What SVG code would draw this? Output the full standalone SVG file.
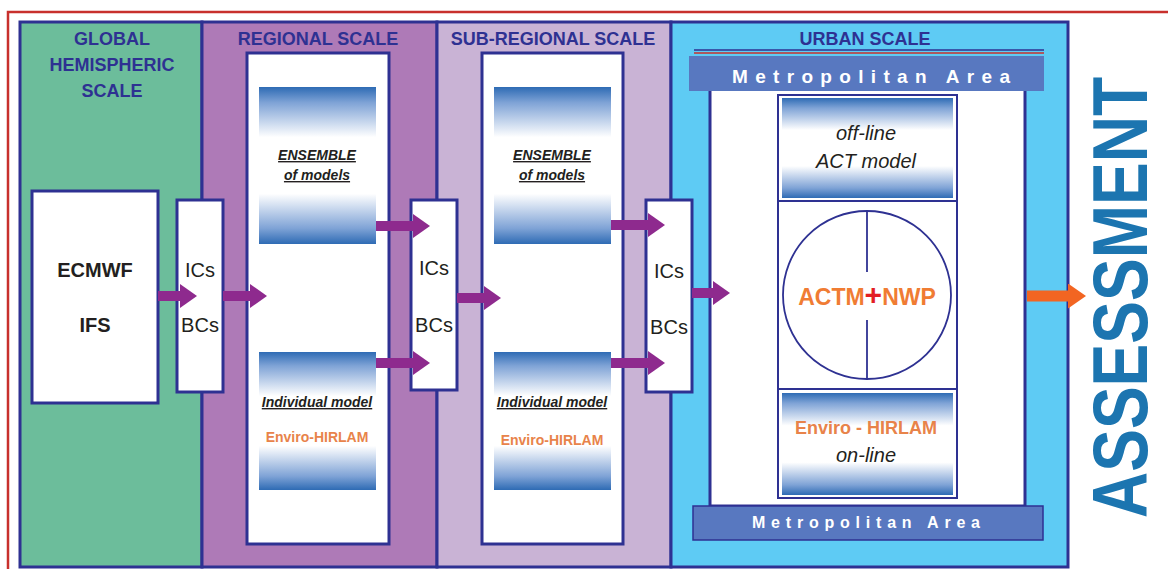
<svg xmlns="http://www.w3.org/2000/svg" width="1168" height="569" viewBox="0 0 1168 569">
<style>
text{font-family:"Liberation Sans",Arial,sans-serif}
.panel{stroke:#2e3192;stroke-width:3}
.box{fill:#fff;stroke:#2e3192;stroke-width:3}
.title{font-size:18px;font-weight:bold;fill:#2e3192;text-anchor:middle}
.ic{font-size:20px;fill:#231f20;text-anchor:middle}
.big{font-size:20px;font-weight:bold;fill:#231f20;text-anchor:middle}
.ens{font-size:14px;font-weight:bold;font-style:italic;fill:#231f20;text-anchor:middle;text-decoration:underline}
.env{font-size:14px;font-weight:bold;fill:#e8834a;text-anchor:middle}
.it{font-size:20px;font-style:italic;fill:#231f20;text-anchor:middle}
.metro{font-size:19px;font-weight:bold;fill:#fff;text-anchor:middle}
.arr{stroke:#8e2a8e;stroke-width:10;fill:none}
</style>
<defs>
<linearGradient id="gb" x1="0" y1="0" x2="0" y2="1">
<stop offset="0" stop-color="#2e6bb4"/>
<stop offset="0.1" stop-color="#7fa3d6"/>
<stop offset="0.32" stop-color="#ffffff"/>
<stop offset="0.68" stop-color="#ffffff"/>
<stop offset="0.9" stop-color="#7fa3d6"/>
<stop offset="1" stop-color="#2e6bb4"/>
</linearGradient>
<marker id="ah" markerWidth="17" markerHeight="24" refX="0" refY="12" orient="auto" markerUnits="userSpaceOnUse"><path d="M0,0 L17,12 L0,24 Z" fill="#8e2a8e"/></marker>
<marker id="aho" markerWidth="18" markerHeight="25" refX="0" refY="12.5" orient="auto" markerUnits="userSpaceOnUse"><path d="M0,0 L18,12.5 L0,25 Z" fill="#f26522"/></marker>
</defs>
<rect x="0" y="0" width="1168" height="569" fill="#fff"/>
<rect x="8" y="12" width="1175" height="570" fill="none" stroke="#c8302c" stroke-width="2.5"/>

<g id="global">
<rect class="panel" x="20" y="22" width="182" height="545" fill="#6cbd9b"/>
<text class="title" x="112" y="45">GLOBAL</text>
<text class="title" x="112" y="71">HEMISPHERIC</text>
<text class="title" x="112" y="97">SCALE</text>
</g>
<g id="regional">
<rect class="panel" x="202" y="22" width="235" height="545" fill="#ae7ab7"/>
<text class="title" x="318" y="45">REGIONAL SCALE</text>
<rect class="box" x="247" y="53" width="142" height="491"/>
<rect x="259" y="87" width="117" height="157" fill="url(#gb)"/>
<rect x="259" y="352" width="117" height="138" fill="url(#gb)"/>
<text class="ens" x="317" y="160">ENSEMBLE</text>
<text class="ens" x="317" y="180">of models</text>
<text class="ens" x="317" y="407">Individual model</text>
<text class="env" x="317" y="442">Enviro-HIRLAM</text>
</g>
<g id="subregional">
<rect class="panel" x="437" y="22" width="234" height="545" fill="#c9b3d5"/>
<text class="title" x="553" y="45">SUB-REGIONAL SCALE</text>
<rect class="box" x="482" y="53" width="141" height="491"/>
<rect x="494" y="87" width="117" height="157" fill="url(#gb)"/>
<rect x="494" y="352" width="117" height="138" fill="url(#gb)"/>
<text class="ens" x="552" y="160">ENSEMBLE</text>
<text class="ens" x="552" y="180">of models</text>
<text class="ens" x="552" y="407">Individual model</text>
<text class="env" x="552" y="445">Enviro-HIRLAM</text>
</g>
<g id="urban">
<rect class="panel" x="671" y="22" width="397" height="545" fill="#5ecbf4"/>
<text class="title" x="865" y="45">URBAN SCALE</text>
<rect class="box" x="710" y="88" width="315" height="418"/>
<line x1="694" y1="50" x2="1044" y2="50" stroke="#2e3192" stroke-width="1.5"/>
<line x1="694" y1="53" x2="1044" y2="53" stroke="#c8302c" stroke-width="1.5"/>
<rect x="689" y="56" width="355" height="35" fill="#5878c0"/>
<text class="metro" x="871" y="83" textLength="278" lengthAdjust="spacing">Metropolitan Area</text>
<rect x="693" y="506" width="350" height="34" fill="#5878c0" stroke="#2e3192" stroke-width="1.5"/>
<text class="metro" x="866" y="528" style="font-size:16px" textLength="228" lengthAdjust="spacing">Metropolitan Area</text>
</g>
<g id="ecmwf">
<rect class="box" x="32" y="191" width="126" height="212"/>
<text class="big" x="95" y="277">ECMWF</text>
<text class="big" x="95" y="332">IFS</text>
</g>
<g id="icbc1">
<rect class="box" x="177" y="200" width="46" height="192"/>
<text class="ic" x="200" y="277">ICs</text>
<text class="ic" x="200" y="332">BCs</text>
</g>
<g id="icbc2">
<rect class="box" x="411" y="200" width="46" height="190"/>
<text class="ic" x="434" y="275">ICs</text>
<text class="ic" x="434" y="332">BCs</text>
</g>
<g id="icbc3">
<rect class="box" x="646" y="200" width="46" height="192"/>
<text class="ic" x="669" y="278">ICs</text>
<text class="ic" x="669" y="334">BCs</text>
</g>
<g id="offline">
<rect x="778" y="95" width="179" height="403" fill="#fff" stroke="#2e3192" stroke-width="2"/>
<rect x="782" y="98" width="171" height="100" fill="url(#gb)"/>
<line x1="778" y1="201" x2="957" y2="201" stroke="#2e3192" stroke-width="2"/>
<text class="it" x="866" y="140">off-line</text>
<text class="it" x="866" y="168">ACT model</text>
</g>
<g id="coupled">
<circle cx="867" cy="295" r="84" fill="none" stroke="#2e3192" stroke-width="1.8"/>
<line x1="867" y1="211" x2="867" y2="272" stroke="#2e3192" stroke-width="1.8"/>
<line x1="867" y1="320" x2="867" y2="379" stroke="#2e3192" stroke-width="1.8"/>
<line x1="778" y1="389" x2="957" y2="389" stroke="#2e3192" stroke-width="2"/>
<text x="867" y="305" text-anchor="middle" style="font-size:23px;font-weight:bold;fill:#f07c33">ACTM<tspan fill="#e31e24" style="font-size:30px">+</tspan>NWP</text>
</g>
<g id="online">
<rect x="782" y="393" width="171" height="102" fill="url(#gb)"/>
<text x="866" y="434" text-anchor="middle" style="font-size:18px;font-weight:bold;fill:#e8834a">Enviro - HIRLAM</text>
<text class="it" x="866" y="462">on-line</text>
</g>
<g id="assessment">
<text transform="translate(1147,518) rotate(-90)" x="0" y="0" textLength="441" lengthAdjust="spacingAndGlyphs" style="font-size:78px;font-weight:bold;fill:#1c75b0">ASSESSMENT</text>
</g>
<g id="connectors">
<line class="arr" x1="158" y1="296" x2="180" y2="296" marker-end="url(#ah)"/>
<line class="arr" x1="223" y1="296" x2="250" y2="296" marker-end="url(#ah)"/>
<line class="arr" x1="376" y1="226" x2="413" y2="226" marker-end="url(#ah)"/>
<line class="arr" x1="376" y1="363" x2="413" y2="363" marker-end="url(#ah)"/>
<line class="arr" x1="457" y1="298" x2="484" y2="298" marker-end="url(#ah)"/>
<line class="arr" x1="611" y1="225" x2="648" y2="225" marker-end="url(#ah)"/>
<line class="arr" x1="611" y1="363" x2="648" y2="363" marker-end="url(#ah)"/>
<line class="arr" x1="692" y1="293" x2="713" y2="293" marker-end="url(#ah)"/>
<line x1="1027" y1="296" x2="1068" y2="296" stroke="#f26522" stroke-width="11" marker-end="url(#aho)"/>
</g>
</svg>
